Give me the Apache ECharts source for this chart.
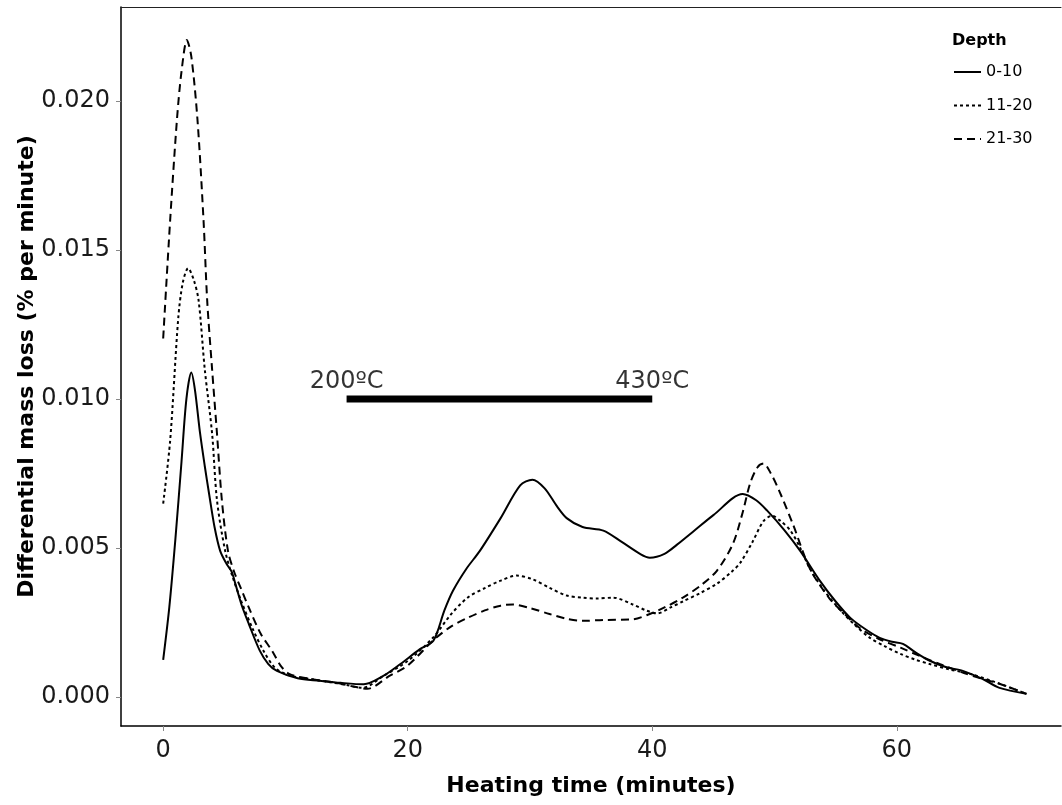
<!DOCTYPE html>
<html>
<head>
<meta charset="utf-8">
<script src="https://cdn.jsdelivr.net/npm/echarts@6/dist/echarts.min.js"></script>
<style>
  html, body { margin: 0; padding: 0; background: #ffffff; }
  #chart { width: 1062px; height: 805px; }
</style>
</head>
<body>
<div id="chart"></div>
<script>
// ---- Data ----
const seriesNames = ['0-10', '11-20', '21-30'];

const time0to10 = [0,0.5,1.0,1.5,1.9, 2.3,2.6,3.0,3.4,3.76, 4.2,4.66,5.2,5.6,5.9, 6.4,7.0,7.9,8.6,9.3,
  11,12.8,14.5,16.4,18, 19.4,21,22.1,23,23.7, 24.8,25.9,27.6,29.2,30.2, 31.2,32.2,33,34.3,36,
  37.5,39,39.8,41,42, 43.5,45,47.4,48.5,49.4, 50.8,52.1,53.7,55,56.2, 57.5,58.6,59.6,60.5,61.5,
  62.7,64,65.4,67,68.4, 70.6];
const loss0to10 = [0.00124,0.0030,0.0053,0.0079,0.0100, 0.01089,0.0103,0.0089,0.00775,0.0068,
  0.0057,0.0049,0.00445,0.0042,0.0038, 0.0031,0.00245,0.00155,0.0011,0.00087,
  0.00062,0.00054,0.00047,0.00042,0.0007, 0.0011,0.0016,0.00188,0.0029,0.00356,
  0.0043,0.0049,0.0060,0.0071,0.00729, 0.0070,0.0064,0.0060,0.0057,0.00558,
  0.0052,0.0048,0.00467,0.0048,0.0051, 0.0056,0.0061,0.00681,0.0066,0.00625,
  0.0056,0.0049,0.0039,0.0032,0.00265, 0.00225,0.00198,0.00185,0.00178,0.0015,
  0.00121,0.0010,0.00087,0.0006,0.0003, 0.0001];

const time11to20 = [0,0.57,1.23,1.6,2.04, 2.5,2.9,3.4,4.0,4.4, 5.07,5.7,6.4,7.3,8.2, 9.2,10.5,12,13.5,15,
  16.3,18,20,22.1,23.5, 24.9,26.3,27.6,28.9,30.2, 31.6,33,34.3,35.5,36.8, 38.4,39.5,40.4,41.5,42.5,
  44,45.3,46.5,47.2,48.2, 49.1,49.8,50.5,51.3,52.1, 52.9,54,55.4,56.6,57.8, 59,60.3,61.5,62.7,64.3,
  66,68,70.6];
const loss11to20 = [0.00649,0.0086,0.0127,0.0139,0.01439, 0.0140,0.0133,0.0110,0.00884,0.0066,
  0.0049,0.0040,0.0032,0.0023,0.00155, 0.00095,0.0007,0.0006,0.0005,0.0004,
  0.0003,0.0007,0.0012,0.0020,0.00275, 0.00333,0.00365,0.0039,0.00407,0.00395,
  0.00366,0.0034,0.00333,0.0033,0.00333, 0.0031,0.0029,0.0028,0.0030,0.0032,
  0.0035,0.0038,0.0042,0.0045,0.0052, 0.0059,0.00608,0.0059,0.00558,0.0050,
  0.0043,0.0036,0.0029,0.0024,0.00198, 0.0017,0.00144,0.00125,0.0011,0.00092,
  0.00077,0.0005,0.0001];

const time21to30 = [0,0.57,1.13,1.5,1.94, 2.3,2.8,3.3,3.6,4.0, 4.4,4.8,5.3,5.8,6.4, 7.0,8.0,8.9,9.6,10.3,
  12,14,15.5,16.7,18.5, 20,22.1,23.5,24.9,26.3, 27.6,28.6,30,31.6,33, 34.3,36,38.4,39.8,41,
  42.5,44,45.3,46.6,47.4, 48,48.6,49.1,49.7,50.4, 51.5,52.9,54.5,55.8,57, 58.5,60.3,62,63.5,65.5,
  67,68.4,70.6];
const loss21to30 = [0.01203,0.0160,0.0194,0.0210,0.02205, 0.0215,0.0194,0.0160,0.0133,0.0110,
  0.00884,0.0066,0.0049,0.0042,0.0036, 0.0030,0.0021,0.00155,0.00105,0.00077,
  0.0006,0.00048,0.00035,0.00027,0.0007, 0.00105,0.0019,0.00235,0.00265,0.0029,
  0.00306,0.0031,0.00298,0.00278,0.00262, 0.00255,0.00258,0.0026,0.00278,0.0030,
  0.00333,0.00375,0.00424,0.00514,0.0062, 0.00716,0.0077,0.00783,0.0075,0.0069,
  0.0058,0.0043,0.0033,0.00275,0.0023, 0.00195,0.00165,0.00135,0.0011,0.0008,
  0.0006,0.00044,0.0001];

const xTicks = [0, 20, 40, 60];
const yTicks = [0, 0.005, 0.010, 0.015, 0.020];

const annoLabels = ['200ºC', '430ºC'];
const annoTimes = [15, 40];
const annoLevel = 0.010;

// ---- Build ----
function zip(t, v) { return t.map((x, i) => [x, v[i]]); }
const font = 'DejaVu Sans';
const dashTypes = ['solid', [3, 3], [8, 5]];
const times = [time0to10, time11to20, time21to30];
const losses = [loss0to10, loss11to20, loss21to30];

const lineSeries = seriesNames.map((name, i) => ({
  name: name,
  type: 'line',
  data: zip(times[i], losses[i]),
  showSymbol: false,
  symbol: 'none',
  smooth: 0.3,
  lineStyle: { color: '#000', width: 2, type: dashTypes[i] },
  itemStyle: { color: '#000' },
  z: 3
}));

const chart = echarts.init(document.getElementById('chart'), null, { renderer: 'canvas' });
chart.setOption({
  animation: false,
  backgroundColor: '#ffffff',
  textStyle: { fontFamily: font },
  title: {
    text: 'Depth',
    left: 947, top: 28,
    textStyle: { fontFamily: font, fontWeight: 'bold', fontSize: 16, color: '#000' }
  },
  legend: {
    data: seriesNames,
    orient: 'vertical',
    left: 948, top: 59,
    itemWidth: 27, itemHeight: 14, itemGap: 17.5,
    itemStyle: { opacity: 0 },
    textStyle: { fontFamily: font, fontSize: 16, color: '#000' }
  },
  grid: {
    left: 121, top: 7, width: 940, height: 719,
    show: false, containLabel: false
  },
  xAxis: [{
    type: 'value',
    min: -3.45, max: 73.43,
    name: 'Heating time (minutes)',
    nameLocation: 'middle', nameGap: 49,
    nameMoveOverlap: false,
    nameTextStyle: { fontFamily: font, fontWeight: 'bold', fontSize: 22, color: '#000' },
    axisLine: { show: true, onZero: false, lineStyle: { color: '#000', width: 1.5 } },
    axisTick: { show: true, customValues: xTicks, length: 5, lineStyle: { color: '#888', width: 1 } },
    axisLabel: { customValues: xTicks, margin: 13, fontFamily: font, fontSize: 24, color: '#1a1a1a' },
    splitLine: { show: false }
  }, {
    type: 'value',
    position: 'top',
    min: -3.45, max: 73.43,
    axisLine: { show: true, onZero: false, lineStyle: { color: '#222', width: 1 } },
    axisTick: { show: false },
    axisLabel: { show: false },
    splitLine: { show: false }
  }],
  yAxis: {
    type: 'value',
    min: -0.00098, max: 0.02316,
    name: 'Differential mass loss (% per minute)',
    nameLocation: 'middle', nameGap: 83,
    nameMoveOverlap: false,
    nameTextStyle: { fontFamily: font, fontWeight: 'bold', fontSize: 22, color: '#000' },
    axisLine: { show: true, onZero: false, lineStyle: { color: '#000', width: 1.5 } },
    axisTick: { show: true, customValues: yTicks, length: 5, lineStyle: { color: '#888', width: 1 } },
    axisLabel: {
      customValues: yTicks, margin: 11, fontFamily: font, fontSize: 24, color: '#1a1a1a',
      formatter: v => v.toFixed(3)
    },
    splitLine: { show: false }
  },
  series: lineSeries.concat([
    {
      name: 'range',
      type: 'line',
      data: annoTimes.map(t => [t, annoLevel]),
      symbol: 'none',
      lineStyle: { color: '#000', width: 7, cap: 'butt' },
      z: 4
    },
    {
      name: 'rangeLabels',
      type: 'scatter',
      data: annoTimes.map((t, i) => [t, annoLevel, annoLabels[i]]),
      symbolSize: 0,
      label: {
        show: true, position: 'top', distance: 5,
        formatter: p => p.value[2],
        fontFamily: font, fontSize: 24, color: '#000'
      },
      z: 5
    }
  ])
});
</script>
</body>
</html>
